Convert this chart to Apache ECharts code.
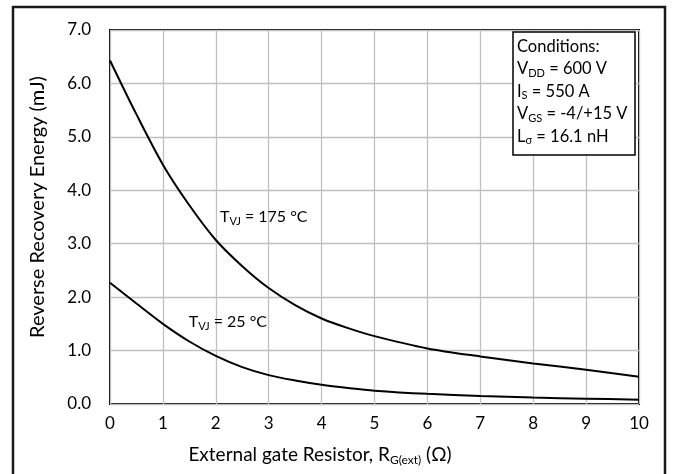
<!DOCTYPE html>
<html>
<head>
<meta charset="utf-8">
<script src="https://cdn.jsdelivr.net/npm/echarts@6/dist/echarts.min.js"></script>
<style>
  html, body { margin: 0; padding: 0; background: #fff; }
  #chart { width: 673px; height: 474px; }
</style>
</head>
<body>
<div id="chart"></div>
<script>
// External gate resistance R_G(ext) in ohms
const rg = [0, 0.5, 1, 1.5, 2, 2.5, 3, 3.5, 4, 4.5, 5, 6, 7, 8, 9, 10];
// Reverse recovery energy (mJ) at T_VJ = 175 °C
const err175 = [6.43, 5.42, 4.48, 3.72, 3.07, 2.58, 2.17, 1.85, 1.60, 1.42, 1.27, 1.04, 0.89, 0.76, 0.64, 0.51];
// Reverse recovery energy (mJ) at T_VJ = 25 °C
const err25 = [2.27, 1.88, 1.50, 1.17, 0.90, 0.69, 0.54, 0.44, 0.36, 0.30, 0.25, 0.19, 0.15, 0.12, 0.10, 0.08];

const FONT = 'Lato';
const BASE = 17;
const SUB = 11;

const richStyles = {
  n: { fontFamily: FONT, fontSize: 16, color: '#000', lineHeight: 22 },
  s: { fontFamily: FONT, fontSize: SUB, color: '#000', lineHeight: 22, padding: [9, 0, 0, 0] }
};

const chart = echarts.init(document.getElementById('chart'), null, { renderer: 'canvas' });

function curve(name, values) {
  return {
    name: name,
    type: 'line',
    data: rg.map((x, i) => [x, values[i]]),
    smooth: 0.3,
    symbol: 'none',
    lineStyle: { color: '#000', width: 2 },
    silent: true
  };
}

// Curve captions are anchored in data coordinates
function caption(text, at) {
  return {
    symbol: 'circle',
    symbolSize: 0,
    silent: true,
    data: [{ coord: at }],
    label: {
      show: true,
      position: 'right',
      distance: 0,
      formatter: text,
      rich: richStyles
    }
  };
}

const s175 = curve('175', err175);
s175.markPoint = caption('{n|T}{s|VJ}{n| = 175 °C}', [2.08, 3.5]);
const s25 = curve('25', err25);
s25.markPoint = caption('{n|T}{s|VJ}{n| = 25 °C}', [1.49, 1.54]);

chart.setOption({
  animation: false,
  backgroundColor: '#fff',
  grid: {
    left: 110, right: 34, top: 30, bottom: 70,
    show: true, borderColor: '#000', borderWidth: 2, backgroundColor: 'transparent'
  },
  xAxis: {
    type: 'value', min: 0, max: 10, interval: 1,
    axisLine: { show: false }, axisTick: { show: false },
    splitLine: { show: true, lineStyle: { color: '#c0c0c0', width: 1.3 } },
    axisLabel: { color: '#000', fontFamily: FONT, fontSize: BASE, margin: 11 }
  },
  yAxis: {
    type: 'value', min: 0, max: 7, interval: 1,
    axisLine: { show: false }, axisTick: { show: false },
    splitLine: { show: true, lineStyle: { color: '#c0c0c0', width: 1.3 } },
    axisLabel: {
      color: '#000', fontFamily: FONT, fontSize: BASE, margin: 19,
      formatter: v => v.toFixed(1)
    }
  },
  graphic: [
    // outer frame of the figure
    {
      type: 'rect', silent: true, z: 100,
      shape: { x: 13, y: 7, width: 652, height: 490 },
      style: { fill: 'none', stroke: '#1a1a1a', lineWidth: 2.5 }
    },
    // y-axis title
    {
      type: 'text', silent: true, z: 100,
      x: 38, y: 207, rotation: Math.PI / 2,
      style: {
        text: 'Reverse Recovery Energy (mJ)',
        fontFamily: FONT, fontSize: 20, fill: '#000',
        align: 'center', verticalAlign: 'middle'
      }
    },
    // x-axis title
    {
      type: 'text', silent: true, z: 100,
      x: 320, y: 455,
      style: {
        text: '{t|External gate Resistor, R}{u|G(ext)}{t| (Ω)}',
        align: 'center', verticalAlign: 'middle',
        rich: {
          t: { fontFamily: FONT, fontSize: 19, fill: '#000', lineHeight: 26 },
          u: { fontFamily: FONT, fontSize: 12, fill: '#000', lineHeight: 26, padding: [11, 0, 0, 0] }
        }
      }
    },
    // test conditions box
    {
      type: 'rect', silent: true, z: 100,
      shape: { x: 513, y: 32, width: 122, height: 123 },
      style: { fill: '#fff', stroke: '#000', lineWidth: 1.5 }
    },
    {
      type: 'text', silent: true, z: 101,
      x: 517, y: 35,
      style: {
        text: [
          '{n|Conditions:}',
          '{n|V}{s|DD}{n| = 600 V}',
          '{n|I}{s|S}{n| = 550 A}',
          '{n|V}{s|GS}{n| = -4/+15 V}',
          '{n|L}{s|σ}{n| = 16.1 nH}'
        ].join('\n'),
        align: 'left', verticalAlign: 'top',
        rich: {
          n: { fontFamily: FONT, fontSize: 16.5, fill: '#000', lineHeight: 22.5 },
          s: { fontFamily: FONT, fontSize: SUB, fill: '#000', lineHeight: 22.5, padding: [9, 0, 0, 0] }
        }
      }
    }
  ],
  series: [s175, s25]
});
</script>
</body>
</html>
